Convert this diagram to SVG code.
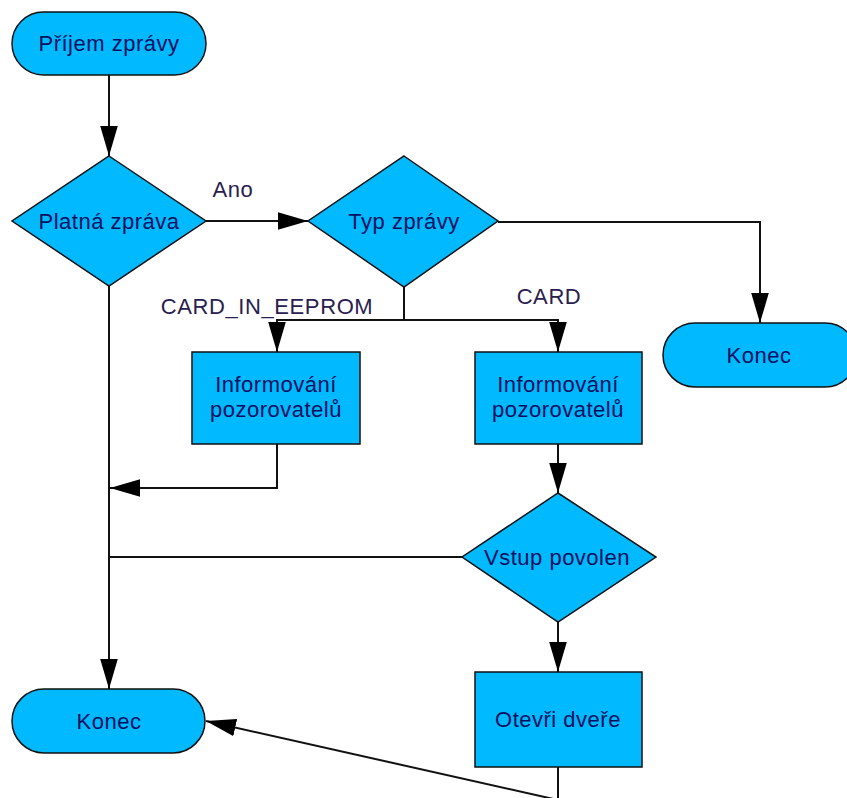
<svg xmlns="http://www.w3.org/2000/svg" width="847" height="798" viewBox="0 0 847 798">
<style>
.shape{fill:#00b9ff;stroke:#111;stroke-width:1.5}
.t{font-family:"Liberation Sans",Arial,sans-serif;font-size:22px;letter-spacing:0.5px;fill:#00105e;text-anchor:middle}
.lbl{font-family:"Liberation Sans",Arial,sans-serif;font-size:22px;letter-spacing:0.6px;fill:#2a2050;text-anchor:middle}
.c{fill:none;stroke:#111;stroke-width:2}
</style>
<defs>
<marker id="arr" markerUnits="userSpaceOnUse" markerWidth="30" markerHeight="18" viewBox="0 0 29 17" refX="29" refY="8.5" orient="auto">
<path d="M0,0 L29,8.5 L0,17 Z" fill="#000"/>
</marker>
</defs>
<rect width="847" height="798" fill="#fff"/>
<g id="connectors">
<path class="c" d="M109,75 V156" marker-end="url(#arr)"/>
<path class="c" d="M206,221 H308" marker-end="url(#arr)"/>
<path class="c" d="M498,222 H760 V323" marker-end="url(#arr)"/>
<path class="c" d="M404,287 V320 H277 V352" marker-end="url(#arr)"/>
<path class="c" d="M404,320 H558 V352" marker-end="url(#arr)"/>
<path class="c" d="M277,444 V488 H110" marker-end="url(#arr)"/>
<path class="c" d="M558,444 V493" marker-end="url(#arr)"/>
<path class="c" d="M462,557 H109"/>
<path class="c" d="M109,286 V689" marker-end="url(#arr)"/>
<path class="c" d="M558,622 V672" marker-end="url(#arr)"/>
<path class="c" d="M558,767 V800 L206,721" marker-end="url(#arr)"/>
<text class="lbl" x="233" y="197">Ano</text>
<text class="lbl" x="267" y="314">CARD_IN_EEPROM</text>
<text class="lbl" x="549" y="304">CARD</text>
</g>
<g id="start">
<rect class="shape" x="12" y="12" width="194" height="63" rx="31.5"/>
<text class="t" x="109" y="51">Příjem zprávy</text>
</g>
<g id="platna">
<polygon class="shape" points="109,156 206,221 109,286 12,221"/>
<text class="t" x="109" y="229">Platná zpráva</text>
</g>
<g id="typ">
<polygon class="shape" points="404,156 498,221 404,287 308,221"/>
<text class="t" x="404" y="229">Typ zprávy</text>
</g>
<g id="info1">
<rect class="shape" x="192" y="352" width="168" height="92"/>
<text class="t" x="276" y="392">Informování</text>
<text class="t" x="276" y="417">pozorovatelů</text>
</g>
<g id="info2">
<rect class="shape" x="475" y="352" width="167" height="92"/>
<text class="t" x="558" y="392">Informování</text>
<text class="t" x="558" y="417">pozorovatelů</text>
</g>
<g id="konec-right">
<rect class="shape" x="663" y="323" width="194" height="64" rx="32"/>
<text class="t" x="759" y="363">Konec</text>
</g>
<g id="vstup">
<polygon class="shape" points="558,493 656,557 558,622 462,557"/>
<text class="t" x="557" y="565">Vstup povolen</text>
</g>
<g id="otevri">
<rect class="shape" x="475" y="672" width="167" height="95"/>
<text class="t" x="558" y="727">Otevři dveře</text>
</g>
<g id="konec-left">
<rect class="shape" x="12" y="689" width="193" height="64" rx="32"/>
<text class="t" x="109" y="729">Konec</text>
</g>
</svg>
